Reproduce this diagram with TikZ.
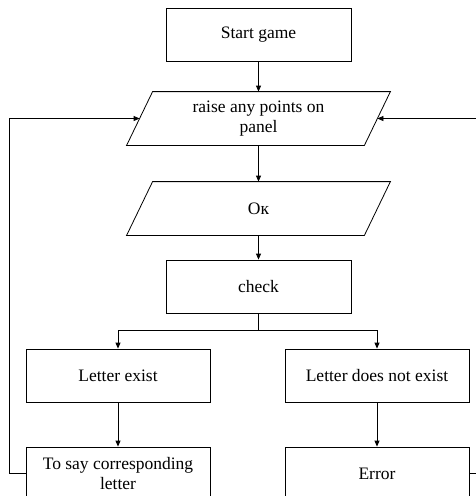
\documentclass[tikz,border=0pt]{standalone}
\usepackage{fontspec}
\setmainfont{Liberation Serif}
\usetikzlibrary{arrows.meta}

\tikzset{
    block/.style={draw,rectangle,minimum width=185pt,minimum height=53pt,inner sep=2pt,align=center},
    io/.style={rectangle,minimum width=237pt,minimum height=53pt,inner sep=1pt,align=center},
    line/.style={line width=0.8pt},
    arrow/.style={line width=0.8pt,-{Triangle[length=6pt,width=5pt]}}
}

\begin{document}
\begin{tikzpicture}[x=1pt,y=-1pt,line width=0.8pt,font=\fontsize{17.5}{20.5}\selectfont]
        \useasboundingbox (0,0) rectangle (476,496);
        \node[block] (start) at (258.5,34.5) {Start game};
        \node[io] (raise) at (258.5,118.5) {raise any points on\\panel};
        \node[io] (ok) at (258.5,208.5) {Oк};
        \node[block] (check) at (258.5,286.5) {check};
        \node[block,minimum width=184pt] (exist) at (118,375.5) {Letter exist};
        \node[block,minimum width=184pt] (notexist) at (377,375.5) {Letter does not exist};
        \node[block,minimum width=184pt] (say) at (118,473.5) {To say corresponding\\letter};
        \node[block,minimum width=184pt] (error) at (377,473.5) {Error};
        \coordinate (split) at (258.5,330);
        \coordinate (leftback) at (9,473.5);
        \coordinate (rightback) at (482,473.5);

        \foreach \n in {raise,ok}
            \draw ([xshift=13pt]\n.north west) -- ([xshift=13pt]\n.north east)
                -- ([xshift=-13pt]\n.south east) -- ([xshift=-13pt]\n.south west) -- cycle;

        \draw[arrow] (start) -- (raise);
        \draw[arrow] (raise) -- (ok);
        \draw[arrow] (ok) -- (check);
        \draw[line] (check) -- (split);
        \draw[arrow] (split) -| (exist);
        \draw[arrow] (split) -| (notexist);
        \draw[arrow] (exist) -- (say);
        \draw[arrow] (notexist) -- (error);
        \draw[arrow] (say.west) -- (leftback) |- (raise.west);
        \draw[arrow] (error.east) -- (rightback) |- (raise.east);
    \end{tikzpicture}
\end{document}
